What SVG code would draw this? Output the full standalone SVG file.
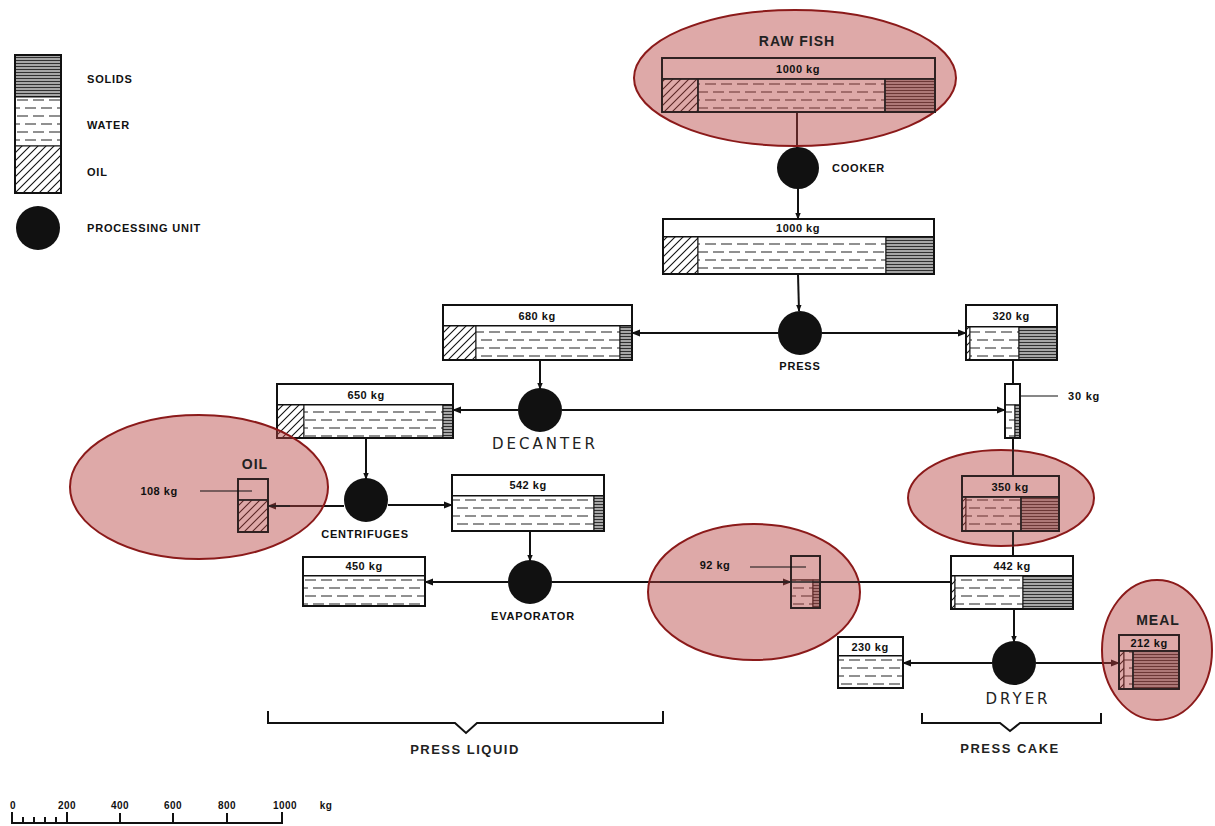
<svg xmlns="http://www.w3.org/2000/svg" width="1215" height="826" viewBox="0 0 1215 826">
<defs>
<pattern id="oil" patternUnits="userSpaceOnUse" width="8" height="8">
<rect width="8" height="8" fill="#fff"/>
<path d="M-2,2 L2,-2 M0,8 L8,0 M6,10 L10,6" stroke="#111" stroke-width="1.1"/>
</pattern>
<pattern id="water" patternUnits="userSpaceOnUse" width="16" height="16">
<rect width="16" height="16" fill="#fff"/>
<path d="M1,4 H12 M9,12 H16 M0,12 H4" stroke="#222" stroke-width="1.2"/>
</pattern>
<pattern id="solids" patternUnits="userSpaceOnUse" width="6" height="3">
<rect width="6" height="3" fill="#a6a6a6"/>
<path d="M0,0.5 H6" stroke="#222" stroke-width="0.9"/>
</pattern>
<marker id="arr" viewBox="0 0 10 10" refX="9" refY="5" markerWidth="7" markerHeight="7" orient="auto" markerUnits="userSpaceOnUse">
<path d="M0,1 L10,5 L0,9 z" fill="#111"/>
</marker>
<marker id="arrm" viewBox="0 0 10 10" refX="9" refY="5" markerWidth="9" markerHeight="9" orient="auto" markerUnits="userSpaceOnUse">
<path d="M0,1 L10,5 L0,9 z" fill="#111"/>
</marker>
</defs>
<style>
.bx{fill:none;stroke:#111;stroke-width:2}
.hd{fill:#fff;stroke:#111;stroke-width:2}
.o{fill:url(#oil);stroke:#111;stroke-width:1}
.w{fill:url(#water);stroke:#111;stroke-width:1}
.s{fill:url(#solids);stroke:#111;stroke-width:1}
.e{fill:#fff;stroke:#111;stroke-width:1}
.unit{fill:#111}
.t{font-family:"Liberation Sans",Arial,sans-serif;font-weight:bold;font-size:11px;fill:#111;letter-spacing:0.8px}
.kg{font-family:"Liberation Sans",Arial,sans-serif;font-weight:bold;font-size:11px;fill:#111;text-anchor:middle;letter-spacing:0.5px}
.big{font-family:"Liberation Sans",Arial,sans-serif;font-weight:bold;font-size:14px;fill:#222;text-anchor:middle;letter-spacing:1px}
.lt{font-family:"DejaVu Sans",sans-serif;font-size:15px;fill:#222;text-anchor:middle;letter-spacing:3px}
.br{font-family:"Liberation Sans",Arial,sans-serif;font-weight:bold;font-size:13px;fill:#222;text-anchor:middle;letter-spacing:1.5px}
.hl{fill:#b5403d;fill-opacity:0.45;stroke:#8b1a1a;stroke-width:2}
.c{stroke:#111;stroke-width:2;fill:none}
.th{stroke:#111;stroke-width:1.2;fill:none}
.ol{fill:none;stroke:#222;stroke-width:1.5}
</style>
<rect width="1215" height="826" fill="#fff"/>

<g id="legend">
<rect x="15" y="55" width="46" height="42" class="s"/>
<rect x="15" y="97" width="46" height="49" class="w"/>
<rect x="15" y="146" width="46" height="47" class="o"/>
<rect x="15" y="55" width="46" height="138" class="bx"/>
<circle cx="38" cy="228" r="22" class="unit"/>
<text x="87" y="83" class="t">SOLIDS</text>
<text x="87" y="129" class="t">WATER</text>
<text x="87" y="176" class="t">OIL</text>
<text x="87" y="232" class="t">PROCESSING UNIT</text>
</g>

<g id="connectors">
<line x1="797" y1="112" x2="797" y2="148" class="c"/>
<line x1="798" y1="189" x2="798" y2="219" class="c" marker-end="url(#arr)"/>
<line x1="798" y1="274" x2="799" y2="311" class="c" marker-end="url(#arr)"/>
<line x1="778" y1="333" x2="632" y2="333" class="c" marker-end="url(#arrm)"/>
<line x1="822" y1="333" x2="966" y2="333" class="c" marker-end="url(#arrm)"/>
<line x1="540" y1="360" x2="540" y2="389" class="c" marker-end="url(#arr)"/>
<line x1="518" y1="410" x2="453" y2="410" class="c" marker-end="url(#arrm)"/>
<line x1="562" y1="410" x2="1005" y2="410" class="c" marker-end="url(#arrm)"/>
<line x1="1013" y1="360" x2="1013" y2="384" class="c"/>
<line x1="1013" y1="438" x2="1013" y2="476" class="c"/>
<line x1="1013" y1="396" x2="1058" y2="396" class="th"/>
<line x1="366" y1="438" x2="366" y2="479" class="c" marker-end="url(#arr)"/>
<line x1="344" y1="506" x2="268" y2="506" class="c" marker-end="url(#arrm)"/>
<line x1="388" y1="505" x2="452" y2="505" class="c" marker-end="url(#arrm)"/>
<line x1="530" y1="531" x2="530" y2="561" class="c" marker-end="url(#arr)"/>
<line x1="508" y1="582" x2="425" y2="582" class="c" marker-end="url(#arrm)"/>
<line x1="552" y1="582" x2="791" y2="582" class="c" marker-end="url(#arrm)"/>
<line x1="791" y1="582" x2="951" y2="582" class="c"/>
<line x1="1013" y1="531" x2="1013" y2="556" class="c"/>
<line x1="1014" y1="609" x2="1014" y2="642" class="c" marker-end="url(#arr)"/>
<line x1="992" y1="663" x2="903" y2="663" class="c" marker-end="url(#arrm)"/>
<line x1="1036" y1="663" x2="1119" y2="663" class="c" marker-end="url(#arrm)"/>
</g>

<g id="raw-fish">
<rect x="662" y="58" width="273" height="21" class="hd"/>
<rect x="662" y="79" width="36" height="33" class="o"/>
<rect x="698" y="79" width="187" height="33" class="w"/>
<rect x="885" y="79" width="50" height="33" class="s"/>
<rect x="662" y="58" width="273" height="54" class="bx"/>
<ellipse cx="795" cy="78" rx="161" ry="68" class="hl"/>
<path d="M662,58 H935 V112 H662 Z M662,79 H935 M698,79 V112 M885,79 V112" class="ol"/>
<text x="798" y="73" class="kg">1000 kg</text>
<text x="797" y="46" class="big">RAW FISH</text>
</g>

<g id="cooker">
<circle cx="798" cy="168" r="21" class="unit"/>
<text x="832" y="172" class="t">COOKER</text>
</g>

<g id="box-1000">
<rect x="663" y="219" width="271" height="18" class="hd"/>
<rect x="663" y="237" width="35" height="37" class="o"/>
<rect x="698" y="237" width="188" height="37" class="w"/>
<rect x="886" y="237" width="48" height="37" class="s"/>
<rect x="663" y="219" width="271" height="55" class="bx"/>
<text x="798" y="232" class="kg">1000 kg</text>
</g>

<g id="press">
<circle cx="800" cy="333" r="22" class="unit"/>
<text x="800" y="370" class="t" text-anchor="middle">PRESS</text>
</g>

<g id="box-680">
<rect x="443" y="305" width="189" height="21" class="hd"/>
<rect x="443" y="326" width="33" height="34" class="o"/>
<rect x="476" y="326" width="144" height="34" class="w"/>
<rect x="620" y="326" width="12" height="34" class="s"/>
<rect x="443" y="305" width="189" height="55" class="bx"/>
<text x="537" y="320" class="kg">680 kg</text>
</g>

<g id="box-320">
<rect x="966" y="305" width="91" height="22" class="hd"/>
<rect x="966" y="327" width="4" height="33" class="o"/>
<rect x="970" y="327" width="49" height="33" class="w"/>
<rect x="1019" y="327" width="38" height="33" class="s"/>
<rect x="966" y="305" width="91" height="55" class="bx"/>
<text x="1011" y="320" class="kg">320 kg</text>
</g>

<g id="tube-30">
<rect x="1005" y="384" width="15" height="21" class="e"/>
<rect x="1005" y="405" width="10" height="33" class="w"/>
<rect x="1015" y="405" width="5" height="33" class="s"/>
<rect x="1005" y="384" width="15" height="54" class="bx"/>
<text x="1068" y="400" class="t">30 kg</text>
</g>

<g id="decanter">
<circle cx="540" cy="410" r="22" class="unit"/>
<text x="545" y="449" class="lt">DECANTER</text>
</g>

<g id="box-650">
<rect x="277" y="384" width="176" height="21" class="hd"/>
<rect x="277" y="405" width="27" height="33" class="o"/>
<rect x="304" y="405" width="139" height="33" class="w"/>
<rect x="443" y="405" width="10" height="33" class="s"/>
<rect x="277" y="384" width="176" height="54" class="bx"/>
<text x="366" y="399" class="kg">650 kg</text>
</g>

<g id="oil-product">
<rect x="238" y="479" width="30" height="21" class="e"/>
<rect x="238" y="500" width="30" height="32" class="o"/>
<rect x="238" y="479" width="30" height="53" class="bx"/>
<ellipse cx="199" cy="487" rx="129" ry="72" class="hl"/>
<path d="M238,479 H268 V532 H238 Z M238,500 H268 M268,506 H290" class="ol"/>
<line x1="200" y1="491" x2="252" y2="491" class="th"/>
<text x="159" y="495" class="kg">108 kg</text>
<text x="255" y="469" class="big">OIL</text>
</g>

<g id="centrifuges">
<circle cx="366" cy="500" r="22" class="unit"/>
<text x="365" y="538" class="t" text-anchor="middle">CENTRIFUGES</text>
</g>

<g id="box-542">
<rect x="452" y="475" width="152" height="21" class="hd"/>
<rect x="452" y="496" width="142" height="35" class="w"/>
<rect x="594" y="496" width="10" height="35" class="s"/>
<rect x="452" y="475" width="152" height="56" class="bx"/>
<text x="528" y="489" class="kg">542 kg</text>
</g>

<g id="evaporator">
<circle cx="530" cy="582" r="22" class="unit"/>
<text x="533" y="620" class="t" text-anchor="middle">EVAPORATOR</text>
</g>

<g id="box-450">
<rect x="303" y="557" width="122" height="19" class="hd"/>
<rect x="303" y="576" width="122" height="30" class="w"/>
<rect x="303" y="557" width="122" height="49" class="bx"/>
<text x="364" y="570" class="kg">450 kg</text>
</g>

<g id="tube-92">
<rect x="791" y="556" width="29" height="24" class="e"/>
<rect x="791" y="580" width="22" height="28" class="w"/>
<rect x="813" y="580" width="7" height="28" class="s"/>
<rect x="791" y="556" width="29" height="52" class="bx"/>
<ellipse cx="754" cy="592" rx="106" ry="68" class="hl"/>
<path d="M791,556 H820 V608 H791 Z M660,582 H860" class="ol"/>
<line x1="750" y1="567" x2="806" y2="567" class="th"/>
<text x="715" y="569" class="kg">92 kg</text>
</g>

<g id="box-350">
<rect x="962" y="476" width="97" height="21" class="hd"/>
<rect x="962" y="497" width="4" height="34" class="o"/>
<rect x="966" y="497" width="55" height="34" class="w"/>
<rect x="1021" y="497" width="38" height="34" class="s"/>
<rect x="962" y="476" width="97" height="55" class="bx"/>
<ellipse cx="1001" cy="498" rx="93" ry="48" class="hl"/>
<path d="M962,476 H1059 V531 H962 Z M962,497 H1059 M1021,497 V531 M1013,450 V476 M1013,531 V546" class="ol"/>
<text x="1010" y="491" class="kg">350 kg</text>
</g>

<g id="box-442">
<rect x="951" y="556" width="122" height="20" class="hd"/>
<rect x="951" y="576" width="4" height="33" class="o"/>
<rect x="955" y="576" width="68" height="33" class="w"/>
<rect x="1023" y="576" width="50" height="33" class="s"/>
<rect x="951" y="556" width="122" height="53" class="bx"/>
<text x="1012" y="570" class="kg">442 kg</text>
</g>

<g id="dryer">
<circle cx="1014" cy="663" r="22" class="unit"/>
<text x="1018" y="704" class="lt">DRYER</text>
</g>

<g id="box-230">
<rect x="838" y="637" width="65" height="19" class="hd"/>
<rect x="838" y="656" width="65" height="32" class="w"/>
<rect x="838" y="637" width="65" height="51" class="bx"/>
<text x="870" y="651" class="kg">230 kg</text>
</g>

<g id="meal">
<rect x="1119" y="635" width="60" height="16" class="hd"/>
<rect x="1119" y="651" width="5" height="38" class="o"/>
<rect x="1124" y="651" width="9" height="38" class="w"/>
<rect x="1133" y="651" width="46" height="38" class="s"/>
<rect x="1119" y="635" width="60" height="54" class="bx"/>
<ellipse cx="1157" cy="650" rx="55" ry="70" class="hl"/>
<path d="M1119,635 H1179 V689 H1119 Z M1119,651 H1179 M1133,651 V689" class="ol"/>
<text x="1149" y="647" class="kg">212 kg</text>
<text x="1158" y="625" class="big">MEAL</text>
</g>

<g id="brackets">
<path d="M268,711 V723 H455 L466,733 L477,723 H663 V711" class="c" stroke-width="1.6"/>
<text x="465" y="754" class="br">PRESS LIQUID</text>
<path d="M922,713 V723 H1000 L1010,731 L1020,723 H1101 V713" class="c" stroke-width="1.6"/>
<text x="1010" y="753" class="br">PRESS CAKE</text>
</g>

<g id="scale">
<path d="M12,812 V823 H282 V812 M67,812 V823 M120,813 V823 M173,813 V823 M227,813 V823 M23,817 V823 M34,817 V823 M45,817 V823 M56,817 V823" class="c" stroke-width="1.4"/>
<g class="kg" style="font-size:10px">
<text x="13" y="809">0</text>
<text x="67" y="809">200</text>
<text x="120" y="809">400</text>
<text x="173" y="809">600</text>
<text x="227" y="809">800</text>
<text x="285" y="809">1000</text>
<text x="326" y="809">kg</text>
</g>
</g>
</svg>
